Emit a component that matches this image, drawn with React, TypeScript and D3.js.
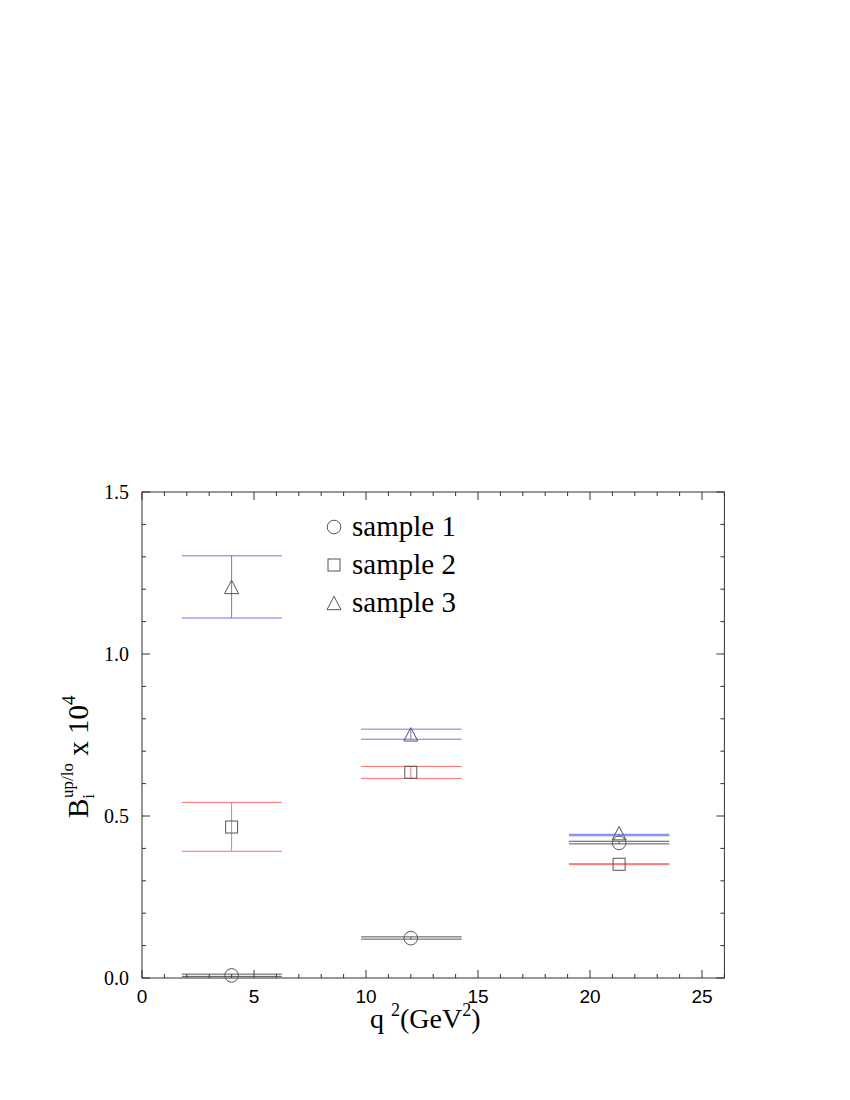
import React from "react";
import * as d3 from "d3";

const binLo = [1.78, 9.78, 19.06];
const binHi = [6.24, 14.27, 23.54];
const binCenter = [4.0, 12.0, 21.3];

const s1Center = [0.008, 0.123, 0.417];
const s1Upper = [0.012, 0.127, 0.422];
const s1Lower = [0.005, 0.12, 0.414];

const s2Center = [0.466, 0.635, 0.351];
const s2Upper = [0.542, 0.653, 0.353];
const s2Lower = [0.391, 0.616, 0.35];

const s3Center = [1.207, 0.752, 0.447];
const s3Upper = [1.303, 0.768, 0.4435];
const s3Lower = [1.111, 0.737, 0.439];

const legendLabels = ["sample 1", "sample 2", "sample 3"];
const xTicks = [0, 5, 10, 15, 20, 25];
const yTicks = [0, 0.5, 1.0, 1.5];

const W = 850;
const H = 1100;
const L = 142, R = 724.4, T = 492, B = 978;

const x = d3.scaleLinear().domain([0, 26]).range([L, R]);
const y = d3.scaleLinear().domain([0, 1.5]).range([B, T]);

const AX = "#333";
const MK = "#555";
const SERIF = "'Liberation Serif', 'Times New Roman', Times, serif";
const SANS = "'Liberation Sans', Arial, Helvetica, sans-serif";

function Marker({ kind, cx, cy, color }: { kind: string; cx: number; cy: number; color: string }) {
  if (kind === "circle") return <circle cx={cx} cy={cy} r={6.8} fill="none" stroke={color} strokeWidth={1} />;
  if (kind === "square") return <rect x={cx - 6} y={cy - 6} width={12} height={12} fill="none" stroke={color} strokeWidth={1} />;
  const p = d3.path();
  p.moveTo(cx, cy - 6.7);
  p.lineTo(cx + 7, cy + 6.7);
  p.lineTo(cx - 7, cy + 6.7);
  p.closePath();
  return <path d={p.toString()} fill="none" stroke={color} strokeWidth={1} />;
}

const series = [
  { kind: "circle", color: "#555", center: s1Center, upper: s1Upper, lower: s1Lower },
  { kind: "square", color: "#ff6f6f", center: s2Center, upper: s2Upper, lower: s2Lower },
  { kind: "triangle", color: "#7272ee", center: s3Center, upper: s3Upper, lower: s3Lower },
];

export default function App() {
  const xMinor = d3.range(0, 27, 1);
  const yMinor = d3.range(0, 1.5001, 0.1);
  return (
    <svg width={W} height={H} style={{ position: "absolute", left: 0, top: 0, background: "#fff" }}>
      <rect x={0} y={0} width={W} height={H} fill="#fff" />
      <rect x={L} y={T} width={R - L} height={B - T} fill="none" stroke={AX} strokeWidth={1} />
      {xMinor.map((v) => {
        const major = v % 5 === 0;
        const len = major ? 8 : 4;
        return (
          <g key={"xt" + v}>
            <line x1={x(v)} x2={x(v)} y1={B} y2={B - len} stroke={AX} />
            <line x1={x(v)} x2={x(v)} y1={T} y2={T + len} stroke={AX} />
          </g>
        );
      })}
      {yMinor.map((v, i) => {
        const major = i % 5 === 0;
        const len = major ? 8 : 4;
        return (
          <g key={"yt" + i}>
            <line x1={L} x2={L + len} y1={y(v)} y2={y(v)} stroke={AX} />
            <line x1={R} x2={R - len} y1={y(v)} y2={y(v)} stroke={AX} />
          </g>
        );
      })}
      {xTicks.map((v) => (
        <text key={"xl" + v} x={x(v)} y={1003} textAnchor="middle" style={{ fontFamily: SANS }} fontSize={19} fill="#000">
          {v}
        </text>
      ))}
      {yTicks.map((v) => (
        <text key={"yl" + v} x={129} y={y(v) + 6.5} textAnchor="end" style={{ fontFamily: SERIF }} fontSize={20} fill="#000">
          {v.toFixed(1)}
        </text>
      ))}
      <text x={370} y={1028} style={{ fontFamily: SERIF }} fontSize={28} fill="#000">
        q<tspan dx={7} dy={-12} fontSize={18}>2</tspan>
        <tspan dy={12}>(GeV</tspan>
        <tspan dy={-12} fontSize={18}>2</tspan>
        <tspan dy={12}>)</tspan>
      </text>
      <text transform="translate(88,818) rotate(-90)" style={{ fontFamily: SERIF }} fontSize={29} fill="#000">
        B<tspan dy={6} fontSize={17}>i</tspan>
        <tspan dx={-4} dy={-21} fontSize={17}>up/lo</tspan>
        <tspan dy={15}> x 10</tspan>
        <tspan dy={-13} fontSize={19}>4</tspan>
      </text>
      {series.map((s, si) => (
        <g key={"s" + si}>
          {binCenter.map((c, i) => (
            <g key={i}>
              <line x1={x(binLo[i])} x2={x(binHi[i])} y1={y(s.upper[i])} y2={y(s.upper[i])} stroke={s.color} strokeWidth={1} />
              <line x1={x(binLo[i])} x2={x(binHi[i])} y1={y(s.lower[i])} y2={y(s.lower[i])} stroke={s.color} strokeWidth={1} />
              <line x1={x(c)} x2={x(c)} y1={y(s.upper[i])} y2={y(s.lower[i])} stroke={s.color} strokeWidth={1} />
            </g>
          ))}
        </g>
      ))}
      {series.map((s, si) => (
        <g key={"m" + si}>
          {binCenter.map((c, i) => (
            <Marker key={i} kind={s.kind} cx={x(c)} cy={y(s.center[i])} color={MK} />
          ))}
        </g>
      ))}
      {legendLabels.map((lab, i) => (
        <g key={"lg" + i}>
          <Marker kind={series[i].kind} cx={334} cy={527 + i * 38} color={MK} />
          <text x={352} y={536 + i * 38} style={{ fontFamily: SERIF }} fontSize={29} fill="#000">
            {lab}
          </text>
        </g>
      ))}
    </svg>
  );
}
